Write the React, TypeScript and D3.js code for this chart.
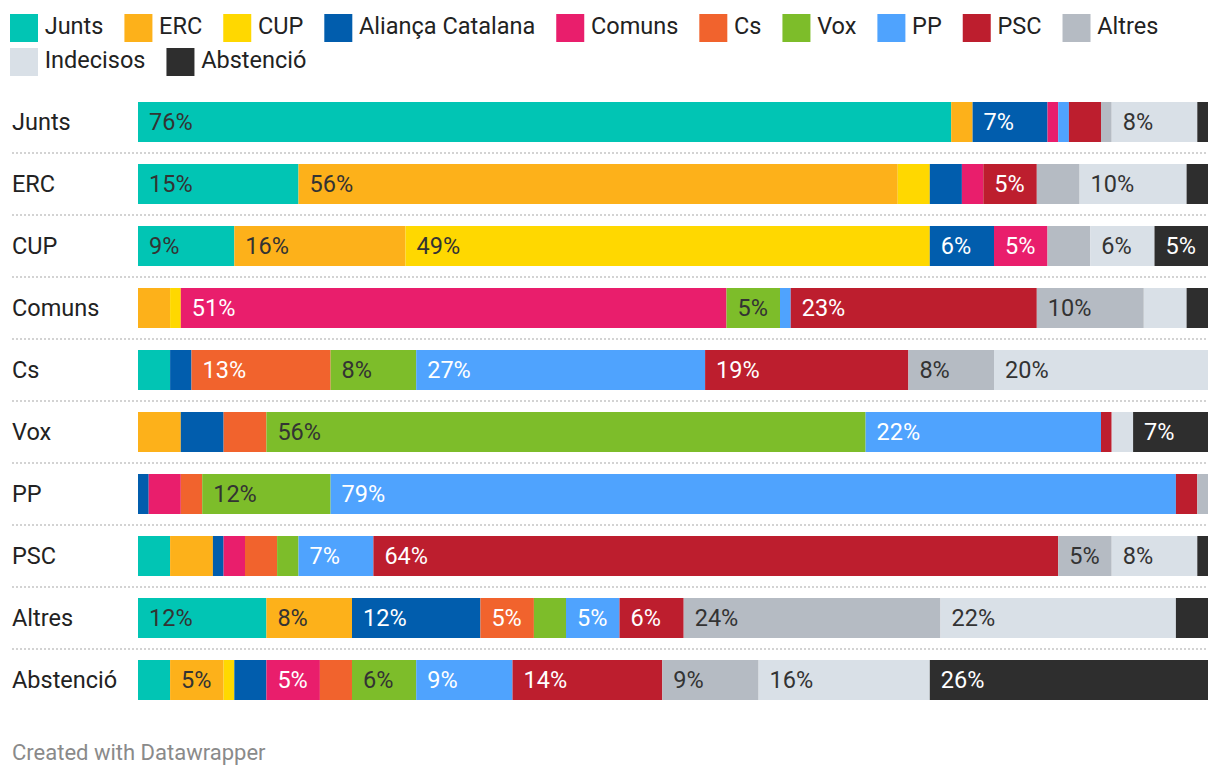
import React, { useMemo } from "react";
import * as d3 from "d3";

const categories = ["Junts", "ERC", "CUP", "Comuns", "Cs", "Vox", "PP", "PSC", "Altres", "Abstenció"];

const seriesNames = ["Junts", "ERC", "CUP", "Aliança Catalana", "Comuns", "Cs", "Vox", "PP", "PSC", "Altres", "Indecisos", "Abstenció"];

const junts = [76, 15, 9, 0, 3, 0, 0, 3, 12, 3];
const erc = [2, 56, 16, 3, 0, 4, 0, 4, 8, 5];
const cup = [0, 3, 49, 1, 0, 0, 0, 0, 0, 1];
const alianca = [7, 3, 6, 0, 2, 4, 1, 1, 12, 3];
const comuns = [1, 2, 5, 51, 0, 0, 3, 2, 0, 5];
const cs = [0, 0, 0, 0, 13, 4, 2, 3, 5, 3];
const vox = [0, 0, 0, 5, 8, 56, 12, 2, 3, 6];
const pp = [1, 0, 0, 1, 27, 22, 79, 7, 5, 9];
const psc = [3, 5, 0, 23, 19, 1, 2, 64, 6, 14];
const altres = [1, 4, 4, 10, 8, 0, 1, 5, 24, 9];
const indecisos = [8, 10, 6, 4, 20, 2, 0, 8, 22, 16];
const abstencio = [1, 2, 5, 2, 0, 7, 0, 1, 3, 26];

const seriesValues = [junts, erc, cup, alianca, comuns, cs, vox, pp, psc, altres, indecisos, abstencio];

const colors = ["#01c5b4", "#fdb11a", "#ffd800", "#015dad", "#e91e6c", "#f1632d", "#7dbd2a", "#4fa3fe", "#bd1e2e", "#b5bbc3", "#d9e0e7", "#2e2e2e"];
const labelColors = ["#333", "#333", "#333", "#fff", "#fff", "#fff", "#333", "#fff", "#fff", "#333", "#333", "#fff"];

const FONT = "Roboto, 'Noto Sans', sans-serif";

function measure(text: string, size: number) {
  const c = document.createElement("canvas").getContext("2d")!;
  c.font = `${size}px Roboto`;
  return c.measureText(text).width;
}

export default function App() {
  const W = 1220;
  const H = 778;
  const x = d3.scaleLinear().domain([0, 100]).range([138, 1208]);
  const y = d3
    .scaleBand<string>()
    .domain(categories)
    .range([91, 91 + 62 * categories.length])
    .paddingInner(22 / 62)
    .paddingOuter(11 / 62);

  const table = categories.map((cat, i) => {
    const row: any = { cat };
    seriesNames.forEach((s, j) => (row[s] = seriesValues[j][i]));
    return row;
  });
  const stacked = d3.stack<any>().keys(seriesNames)(table);

  const legendSize = 23.5;
  const legend = useMemo(() => {
    const items: { name: string; color: string; x: number; y: number }[] = [];
    let cx = 10;
    let cy = 14;
    seriesNames.forEach((name, j) => {
      const w = 34.7 + measure(name, legendSize);
      if (cx + w > 1212) {
        cx = 10;
        cy += 34;
      }
      items.push({ name, color: colors[j], x: cx, y: cy });
      cx += w + 21;
    });
    return items;
  }, []);

  const bh = y.bandwidth();

  return (
    <svg
      width={W}
      height={H}
      style={{ position: "absolute", left: 0, top: 0, background: "#fff" }}
      fontFamily={FONT}
    >
      <g>
        {legend.map((it) => (
          <g key={it.name}>
            <rect x={it.x} y={it.y} width={28} height={28} fill={it.color} />
            <text x={it.x + 34.7} y={it.y + 20.3} fontSize={legendSize} fill="#222">
              {it.name}
            </text>
          </g>
        ))}
      </g>
      {categories.map((cat, i) =>
        i < categories.length - 1 ? (
          <line
            key={"sep" + cat}
            x1={12}
            x2={1208}
            y1={(y(cat) as number) + bh + 11}
            y2={(y(cat) as number) + bh + 11}
            stroke="#d3d3d3"
            strokeWidth={2}
            strokeDasharray="2,2"
          />
        ) : null
      )}
      {categories.map((cat) => (
        <text
          key={"lab" + cat}
          x={12}
          y={(y(cat) as number) + bh / 2 + 8.4}
          fontSize={23.5}
          fill="#222"
        >
          {cat}
        </text>
      ))}
      {stacked.map((layer, j) => (
        <g key={layer.key} fill={colors[j]}>
          {layer.map((d, i) => {
            const v = d[1] - d[0];
            if (v <= 0) return null;
            const yy = y(categories[i]) as number;
            return (
              <g key={i}>
                <rect x={x(d[0])} y={yy} width={x(d[1]) - x(d[0])} height={bh} />
                {v >= 5 ? (
                  <text
                    x={x(d[0]) + 11}
                    y={yy + bh / 2 + 8.4}
                    fontSize={23.5}
                    fill={labelColors[j]}
                  >
                    {v + "%"}
                  </text>
                ) : null}
              </g>
            );
          })}
        </g>
      ))}
      <text x={12} y={760} fontSize={22} fill="#8a8a8a">
        Created with Datawrapper
      </text>
    </svg>
  );
}
